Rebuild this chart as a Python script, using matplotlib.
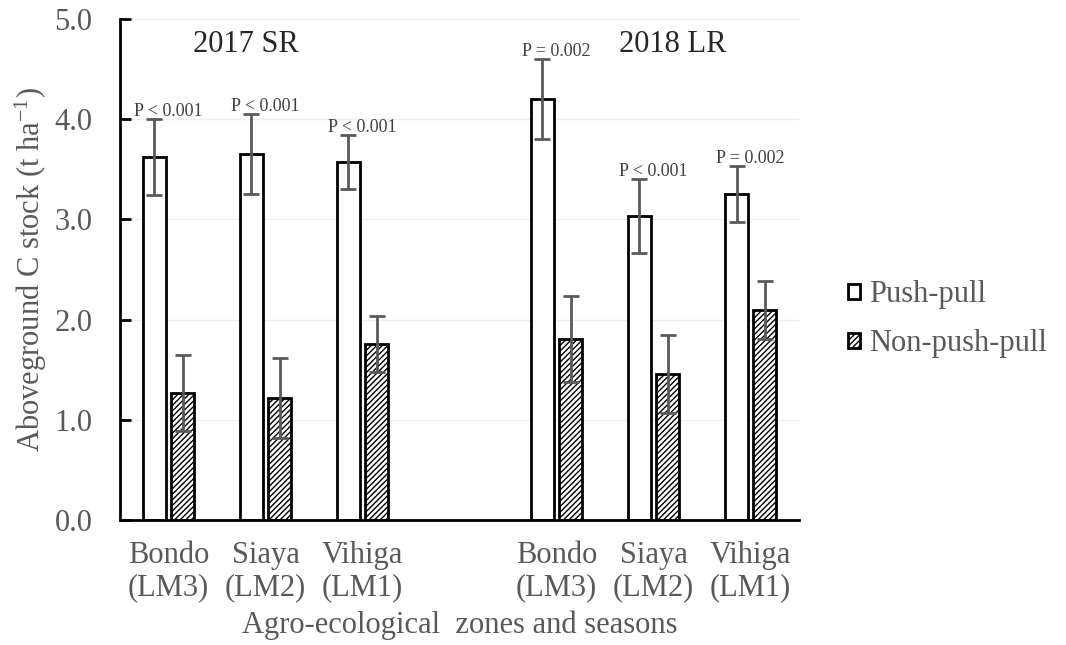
import matplotlib
matplotlib.use("Agg")
import matplotlib.pyplot as plt
from matplotlib.patches import Patch
import numpy as np

plt.rcParams["font.family"] = ["Liberation Serif", "DejaVu Serif"]
plt.rcParams["mathtext.fontset"] = "stix"
plt.rcParams["hatch.linewidth"] = 1.0

zones = ["Bondo\n(LM3)", "Siaya\n(LM2)", "Vihiga\n(LM1)",
         "Bondo\n(LM3)", "Siaya\n(LM2)", "Vihiga\n(LM1)"]
seasons = ["2017 SR", "2018 LR"]
push_pull = [3.62, 3.65, 3.57, 4.20, 3.03, 3.25]
push_pull_err = [0.38, 0.40, 0.27, 0.40, 0.37, 0.28]
non_push_pull = [1.27, 1.22, 1.76, 1.81, 1.46, 2.10]
non_push_pull_err = [0.38, 0.40, 0.28, 0.43, 0.39, 0.29]
p_labels = ["P < 0.001", "P < 0.001", "P < 0.001",
            "P = 0.002", "P < 0.001", "P = 0.002"]

grey = "#595959"
pos = np.array([0, 1, 2, 4, 5, 6])  # empty slot between seasons
w = 0.23
off = 0.145

fig = plt.figure(figsize=(10.66, 6.45), dpi=100)
ax = fig.add_axes([0.1126, 0.1938, 0.637, 0.7767])

ax.bar(pos - off, push_pull, w, color="white", edgecolor="black", lw=2, zorder=2)
ax.bar(pos + off, non_push_pull, w, color="white", edgecolor="black", lw=2,
       hatch="//////", zorder=2)
ax.errorbar(pos - off, push_pull, yerr=push_pull_err, fmt="none", ecolor=grey,
            elinewidth=2, capsize=6, capthick=2, zorder=3)
ax.errorbar(pos + off, non_push_pull, yerr=non_push_pull_err, fmt="none",
            ecolor=grey, elinewidth=2, capsize=6, capthick=2, zorder=3)

for x, y, e, lab in zip(pos, push_pull, push_pull_err, p_labels):
    ax.text(x, y + e + 0.08, lab, ha="center", va="center", fontsize=13,
            color="#404040", zorder=4)

ax.text(0.8, 4.75, seasons[0], ha="center", va="center", fontsize=22, color="#262626")
ax.text(5.2, 4.75, seasons[1], ha="center", va="center", fontsize=22, color="#262626")

ax.set_xlim(-0.5, 6.5)
ax.set_ylim(0, 5)
ax.set_yticks(np.arange(0, 5.01, 1.0))
ax.set_yticklabels([f"{v:.1f}" for v in np.arange(0, 5.01, 1.0)])
ax.set_xticks(pos)
ax.set_xticklabels(zones, linespacing=1.15)
ax.tick_params(axis="x", length=0, pad=15, labelsize=22, labelcolor=grey)
ax.tick_params(axis="y", direction="in", length=8, width=2, pad=20,
               labelsize=22, labelcolor=grey)
ax.yaxis.grid(True, color="#eeeeee", lw=1)
ax.set_axisbelow(True)
for s in ["top", "right"]:
    ax.spines[s].set_visible(False)
ax.spines["left"].set_linewidth(2)
ax.spines["bottom"].set_linewidth(2)

ax.set_ylabel("Aboveground C stock (t ha$^{\\mathregular{-1}}$)", fontsize=22,
              color=grey)
ax.yaxis.set_label_coords(-0.104, 0.5)
ax.set_xlabel("Agro-ecological  zones and seasons", fontsize=22, color=grey,
              labelpad=6)

handles = [Patch(facecolor="white", edgecolor="black", lw=2, label="Push-pull"),
           Patch(facecolor="white", edgecolor="black", lw=2, hatch="//////",
                 label="Non-push-pull")]
leg = fig.legend(handles=handles, loc="center left", bbox_to_anchor=(0.77, 0.505),
                 frameon=False, fontsize=22, handlelength=0.38, handleheight=0.38,
                 handletextpad=0.3, labelspacing=0.65)
for t in leg.get_texts():
    t.set_color(grey)

fig.savefig("out.png", dpi=100)
